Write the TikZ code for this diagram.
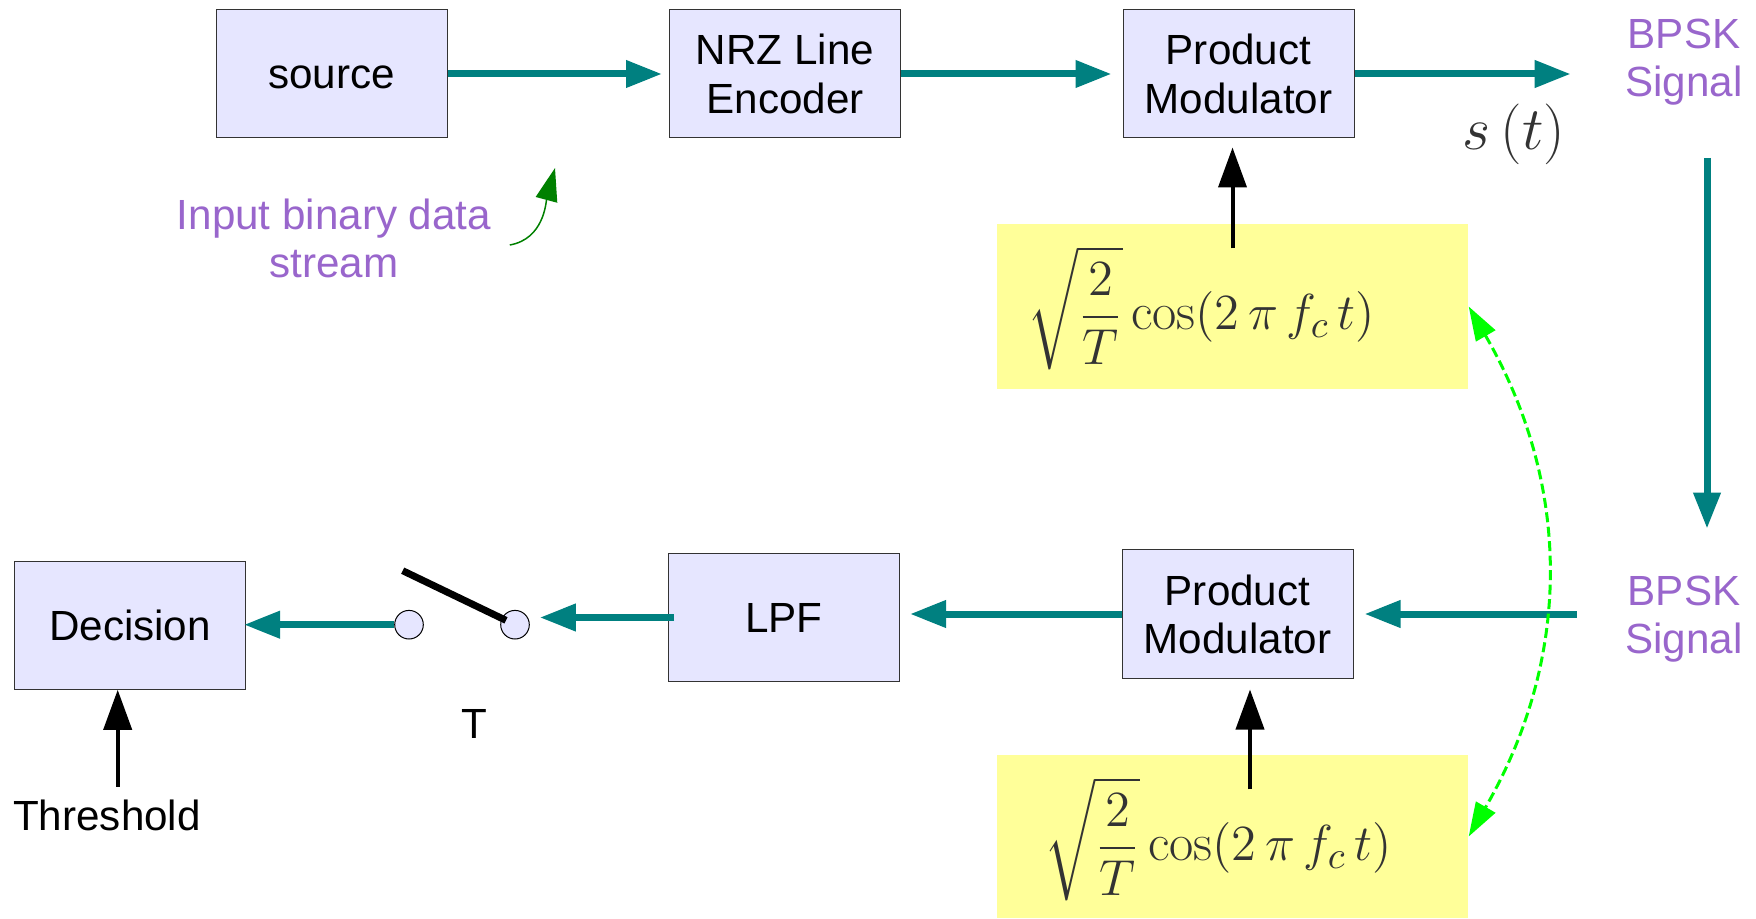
\documentclass[tikz,border=0pt]{standalone}
\usepackage{fontspec}
\usepackage{amsmath}
\usepackage[svgnames]{xcolor}
\usetikzlibrary{positioning, arrows.meta, calc}

\newfontfamily\labelfont{Liberation Sans}
\definecolor{blockfill}{HTML}{E6E6FF}
\definecolor{oscfill}{HTML}{FFFF99}
\definecolor{sigline}{HTML}{008080}
\definecolor{labelpurple}{HTML}{9966CC}
\definecolor{mathgray}{HTML}{333333}
\definecolor{linkgreen}{HTML}{00FF00}
\definecolor{pointergreen}{HTML}{008000}

\tikzset{
    block/.style={draw=black!80, line width=0.1mm, fill=blockfill,
        minimum width=23.1mm, minimum height=12.8mm, align=center,
        font=\labelfont\fontsize{12}{13.7}\selectfont},
    osc/.style={fill=oscfill, minimum width=47.1mm, inner sep=0},
    carrier/.style={text=mathgray, font=\fontsize{15}{18}\selectfont,
        inner sep=0, anchor=west},
    contact/.style={circle, draw=black, line width=0.1mm, fill=blockfill,
        minimum size=2.86mm, inner sep=0},
    purp/.style={text=labelpurple, align=center, inner sep=0,
        font=\labelfont\fontsize{12}{13.7}\selectfont},
    txt/.style={align=center, inner sep=0,
        font=\labelfont\fontsize{12}{13.7}\selectfont},
    sig/.style={draw=sigline, line width=0.7mm,
        -{Triangle[length=3.6mm, width=2.6mm]}},
    feed/.style={draw=black, line width=0.4mm,
        -{Triangle[length=4mm, width=2.8mm]}},
    datapointer/.style={draw=pointergreen, line width=0.15mm,
        -{Triangle[length=3.3mm, width=2.2mm]}},
    link/.style={draw=linkgreen, line width=0.3mm,
        dash pattern=on 1mm off 0.45mm,
        {Triangle[length=3.4mm, width=2.2mm]}-{Triangle[length=3.4mm, width=2.2mm]}},
}

\begin{document}
\begin{tikzpicture}[x=1mm, y=1mm]
    \useasboundingbox (0,0) rectangle (175.6,91.8);

    % carrier boxes
    \node[osc, minimum height=16.5mm] (osct) at (123.25,61.15) {};
    \node[osc, minimum height=16.3mm] (oscb) at (123.25,8.15) {};
    \node[carrier] (cart) at (102.7,61.0)
        {$\displaystyle\sqrt{\frac{2}{T}}\cos(2\,\pi\, f_c\, t)$};
    \node[carrier] (carb) at (104.4,7.9)
        {$\displaystyle\sqrt{\frac{2}{T}}\cos(2\,\pi\, f_c\, t)$};

    % blocks
    \foreach \name/\x/\y/\txt in {
        src/33.15/84.4/{\vphantom{D}source},
        nrz/78.5/84.4/{NRZ Line\\Encoder},
        pmt/123.85/84.4/{Product\\Modulator},
        pmb/123.75/30.4/{Product\\Modulator},
        lpf/78.4/30.05/LPF,
        dec/13.0/29.27/Decision}
    {
        \node[block] (\name) at (\x,\y) {\txt};
    }

    % labels
    \node[purp] (bpskt) at (168.4,85.6) {BPSK\\Signal};
    \node[purp] (bpskb) at (168.4,29.85) {BPSK\\Signal};
    \node[purp] (inp) at (33.4,67.95) {Input binary data\\stream};
    \node[text=mathgray, font=\fontsize{19}{22}\selectfont] (sig) at (151.4,78.4) {$s\,(t)$};
    \node[txt] (tlab) at (47.4,19.4) {T};
    \node[txt] (thr) at (10.7,10.3) {Threshold};

    % sampling switch
    \node[contact] (swl) at (40.9,29.33) {};
    \node[contact] (swr) at (51.5,29.33) {};
    \coordinate (lever) at (40.27,34.73);
    \draw[line width=0.7mm, shorten >=1mm] (lever) -- (swr.center);

    % transmitter
    \draw[sig, shorten >=0.7mm] (src.east) -- (nrz.west);
    \draw[sig, shorten >=1.1mm] (nrz.east) -- (pmt.west);
    \draw[sig, shorten >=5.4mm] (pmt.east) -- (pmt.east -| bpskt.west);
    \draw[sig, shorten <=5.2mm, shorten >=4.7mm]
        ([xshift=2.3mm]bpskt.south) -- ([xshift=2.3mm]bpskb.north);

    % receiver
    \draw[sig, shorten <=4.8mm, shorten >=1.1mm] (bpskb.west |- pmb.east) -- (pmb.east);
    \draw[sig, shorten >=1.0mm] (pmb.west) -- (pmb.west -| lpf.east);
    \draw[sig, shorten <=-0.6mm, shorten >=1.0mm] (lpf.west) -- (lpf.west -| swr.east);
    \draw[sig, shorten >=-0.2mm] (swl.west) -- (swl.west -| dec.east);

    % carrier and threshold inputs
    \draw[feed, shorten <=-2.5mm, shorten >=0.9mm] (osct.north) -- (osct.north |- pmt.south);
    \draw[feed, shorten <=-3.5mm, shorten >=1.1mm]
        ([xshift=1.75mm]oscb.north) -- ([xshift=1.75mm]oscb.north |- pmb.south);
    \draw[feed, shorten <=1.2mm] ([xshift=1.07mm]thr.north) -- ([xshift=1.07mm]thr.north |- dec.south);

    % pointers
    \coordinate (datatip) at (55.5,75.0);
    \draw[datapointer] ([shift={(1.8,-0.65)}]inp.east) to[out=10, in=-105] (datatip);
    \draw[link] (osct.east) to[bend left=30] (oscb.east);
\end{tikzpicture}
\end{document}
